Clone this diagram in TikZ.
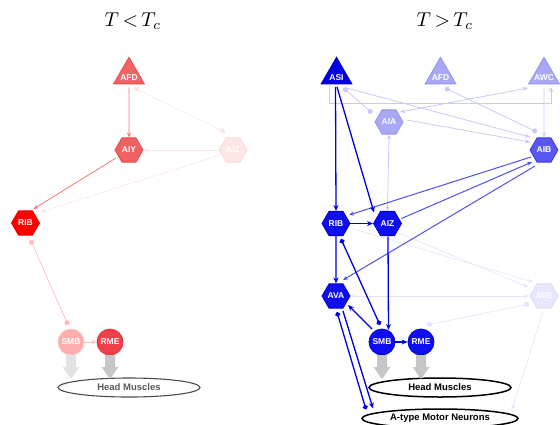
\documentclass[tikz,border=0pt]{standalone}
\usepackage{fontspec}
\setsansfont{Liberation Sans}
\usetikzlibrary{shapes.geometric,arrows.meta,calc}

% node fills and borders
\definecolor{rAFD}{HTML}{F26464}\definecolor{rAFDb}{HTML}{E84A4A}
\definecolor{rAIY}{HTML}{F06262}\definecolor{rAIYb}{HTML}{E24848}
\definecolor{rRIB}{HTML}{FF0000}\definecolor{rRIBb}{HTML}{F00000}
\definecolor{rSMB}{HTML}{FFAEAE}\definecolor{rSMBb}{HTML}{FFC4C4}
\definecolor{rRME}{HTML}{F0404C}\definecolor{rRMEb}{HTML}{E23040}
\definecolor{rPale}{HTML}{FCE6E6}\definecolor{rPaleb}{HTML}{FADADA}
\definecolor{bASI}{HTML}{0000E2}\definecolor{bASIb}{HTML}{0000C8}
\definecolor{bLt}{HTML}{A8A8F5}\definecolor{bLtb}{HTML}{9494EE}
\definecolor{bAIB}{HTML}{5858F0}\definecolor{bAIBb}{HTML}{3A3AE0}
\definecolor{bMain}{HTML}{0E0EF0}\definecolor{bMainb}{HTML}{0000D2}
\definecolor{bPale}{HTML}{E8E8FC}\definecolor{bPaleb}{HTML}{DCDCFA}
% connector colours
\definecolor{eRed}{HTML}{F27878}
\definecolor{eRedLt}{HTML}{FFBCBC}
\definecolor{eRedFaint}{HTML}{FCE4E4}
\definecolor{eBlue}{HTML}{0000E0}
\definecolor{eBlueMid}{HTML}{5050F0}
\definecolor{eBlueLt}{HTML}{CACAFA}
\definecolor{eBlueFaint}{HTML}{E4E4FC}
% muscle arrows
\definecolor{gA}{HTML}{E2E2E2}
\definecolor{gB}{HTML}{C6C6C6}

\newcommand{\muscarrow}[2]{%
  \fill[#2] ($(#1)+(-5,13)$) -- ++(10,0) -- ++(0,12) -- ++(3.5,0)
    -- ++(-8.5,12) -- ++(-8.5,-12) -- ++(3.5,0) -- cycle;}

\begin{document}
\begin{tikzpicture}[x=1pt,y=-1pt,
  lbltxt/.style={font=\sffamily\bfseries\fontsize{8.5}{9}\selectfont, text=white},
  hexa/.style={regular polygon, regular polygon sides=6, minimum size=28pt,
    inner sep=0pt, line width=0.8pt, draw, lbltxt},
  tri/.style={regular polygon, regular polygon sides=3, minimum size=35.5pt,
    inner sep=0pt, line width=0.8pt, draw},
  cell/.style={circle, minimum size=26pt, inner sep=0pt, line width=0.8pt, draw, lbltxt},
  target/.style={ellipse, minimum width=142pt, minimum height=19pt, inner sep=0pt,
    font=\sffamily\bfseries\fontsize{9.5}{11}\selectfont},
  heading/.style={scale=2, inner sep=0pt},
  arr/.style={-{Stealth[length=5pt,width=4.2pt]}},
  barr/.style={-{Stealth[length=6pt,width=5pt]}},
  twoway/.style={{Stealth[length=5pt,width=4.2pt]}-{Stealth[length=5pt,width=4.2pt]}},
  dots/.style={{Circle[length=5pt]}-{Circle[length=5pt]}},
  redline/.style={draw=eRed, line width=0.8pt},
  redlt/.style={draw=eRedLt, line width=0.7pt},
  redfaint/.style={draw=eRedFaint, line width=0.6pt},
  blueline/.style={draw=eBlue, line width=1.3pt},
  bluemid/.style={draw=eBlueMid, line width=1pt},
  bluelt/.style={draw=eBlueLt, line width=0.8pt},
  bluefaint/.style={draw=eBlueFaint, line width=0.6pt},
]
\useasboundingbox (0,0) rectangle (560,424);
\clip (0,0) rectangle (560,424);

% ---------- titles ----------
\node[heading] (titleL) at (133,21) {$T\,{<}\,T_c$};
\node[heading] (titleR) at (445,21) {$T\,{>}\,T_c$};

% ---------- cold side ----------
\node[tri, fill=rAFD, draw=rAFDb,
  label={[lbltxt,yshift=-3pt]center:AFD}] (lAFD) at (129,75) {};
\node[hexa, fill=rAIY, draw=rAIYb] (lAIY) at (129,150) {AIY};
\node[hexa, fill=rPale, draw=rPaleb] (lAIZ) at (233,150) {AIZ};
\node[hexa, fill=rRIB, draw=rRIBb] (lRIB) at (25.5,223) {RIB};
\node[cell, fill=rSMB, draw=rSMBb] (lSMB) at (71,342) {SMB};
\node[cell, fill=rRME, draw=rRMEb] (lRME) at (110,342) {RME};
\node[target, draw=black!70, line width=1.1pt, text=black!65] (lHM) at (129,387.5) {Head Muscles};

\draw[redline, arr] (lAFD.south) ++(0,3) -- (lAIY.north);
\draw[redfaint, dots] ($(lAFD)+(5,13)$) -- ($(lAIZ)+(-8,-18)$);
\draw[redfaint, arr] (lAIZ.west) -- (lAIY.east);
\draw[redline, arr] ($(lAIY)+(-13,8)$) -- ($(lRIB)+(8,-14)$);
\draw[redfaint, arr] ($(lAIZ)+(-13,5)$) -- ($(lRIB)+(15,-11)$);
\draw[redlt, dots] ($(lRIB)+(5,17)$) -- ($(lSMB)+(-3,-17)$);
\draw[redlt, arr] (lSMB.east) -- (lRME.west);

\muscarrow{lSMB}{gA}
\muscarrow{lRME}{gB}

% ---------- warm side ----------
\node[tri, fill=bASI, draw=bASIb,
  label={[lbltxt,yshift=-3pt]center:ASI}] (rASI) at (336.5,75) {};
\node[tri, fill=bLt, draw=bLtb,
  label={[lbltxt,yshift=-3pt]center:AFD}] (rAFD) at (440.5,75) {};
\node[tri, fill=bLt, draw=bLtb,
  label={[lbltxt,yshift=-3pt]center:AWC}] (rAWC) at (544,75) {};
\node[hexa, fill=bLt, draw=bLtb] (rAIA) at (389,122) {AIA};
\node[hexa, fill=bAIB, draw=bAIBb] (rAIB) at (544,150) {AIB};
\node[hexa, fill=bMain, draw=bMainb] (rRIB) at (336,223.5) {RIB};
\node[hexa, fill=bMain, draw=bMainb] (rAIZ) at (387.5,223.5) {AIZ};
\node[hexa, fill=bMain, draw=bMainb] (rAVA) at (336,296) {AVA};
\node[hexa, fill=bPale, draw=bPaleb] (rAVE) at (544,296) {AVE};
\node[cell, fill=bMain, draw=bMainb] (rSMB) at (382,342) {SMB};
\node[cell, fill=bMain, draw=bMainb] (rRME) at (421,342) {RME};
\node[target, draw=black, line width=1.5pt, text=black] (rHM) at (440,387.5) {Head Muscles};
\node[target, draw=black, line width=1.5pt, text=black, minimum width=156pt] (rAT) at (440,418.5) {A-type Motor Neurons};

% faint connectors first
\draw[bluefaint, arr] ($(rRIB)+(16,5)$) -- ($(rAVE)+(-11,-14)$);
\draw[bluefaint, arr] ($(rAIZ)+(10,9)$) -- ($(rAVE)+(-16,-9)$);
\draw[bluefaint, twoway] (rAVA.east) -- (rAVE.west);
\draw[bluefaint, dots] ($(rAVE)+(-15,8)$) -- ($(rRME)+(6,-17)$);
\draw[bluefaint, arr] ($(rAVE)+(-1,16)$) -- ($(rAT)+(72,-9)$);

% light connectors
\draw[bluelt, arr] ($(rASI)+(-7.5,9)$) -- ++(0,19.5) -| ($(rAWC)+(7,12)$);
\draw[bluelt, dots] ($(rASI)+(7,13)$) -- ($(rAIA)+(-17,-9)$);
\draw[bluelt, arr] ($(rASI)+(10,13)$) -- ($(rAIB)+(-14,-13)$);
\draw[bluelt, dots] ($(rAFD)+(4.5,13)$) -- ($(rAIB)+(-7,-18)$);
\draw[bluelt, twoway] ($(rAIA)+(11,-10)$) -- ($(rAWC)+(-16,13)$);
\draw[bluelt, arr] ($(rAIA)+(18,-2)$) -- ($(rAIB)+(-14,-8)$);
\draw[bluelt, arr] (rAWC.south) ++(0,4) -- (rAIB.north);
\draw[bluelt, twoway] (rAIA.south) -- (rAIZ.north);

% AIB connectors
\draw[bluemid, arr] ($(rAIB)+(-13,7)$) -- ($(rRIB)+(13,-8.5)$);
\draw[bluemid, arr] ($(rAIZ)+(14,-5)$) -- ($(rAIB)+(-12,12)$);
\draw[bluemid, arr] ($(rAIB)+(-9,16)$) -- ($(rAVA)+(7,-16)$);

% strong connectors
\draw[blueline, barr] ($(rASI)+(-1,12)$) -- (rRIB.north);
\draw[blueline, barr] ($(rASI)+(0.5,12)$) -- ($(rAIZ)+(-13.5,-11)$);
\draw[blueline, barr] (rRIB.east) -- (rAIZ.west);
\draw[blueline, barr] (rRIB.south) -- (rAVA.north);
\draw[blueline, dots] ($(rSMB)+(-2,-17)$) -- ($(rRIB)+(5,15.5)$);
\draw[blueline, barr] ($(rAIZ)+(0.5,13)$) -- ($(rSMB)+(6.5,-12)$);
\draw[blueline, barr] ($(rSMB)+(-10,-13)$) -- ($(rAVA)+(12,9)$);
\draw[blueline, barr] (rSMB.east) -- (rRME.west);
\draw[blueline, dots] ($(rAVA)+(1,16)$) -- ($(rAT)+(-74,-9)$);
\draw[blueline, barr] ($(rAVA)+(7,15)$) -- ($(rAT)+(-67,-10)$);

\muscarrow{rSMB}{gB}
\muscarrow{rRME}{gB}
\end{tikzpicture}
\end{document}
